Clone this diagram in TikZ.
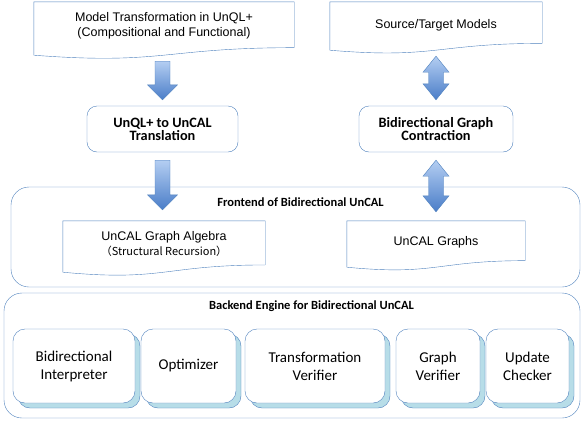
\documentclass[tikz,border=0pt]{standalone}
\usepackage{fontspec}
\setmainfont{Liberation Sans}
\newfontfamily\calib{Carlito}
\newfontfamily\cjk{Noto Sans CJK JP}
\usetikzlibrary{positioning,calc,shadows}

\definecolor{lineblue}{HTML}{4F81BD}
\definecolor{arrowtop}{HTML}{B4CEF2}
\definecolor{arrowbot}{HTML}{4A7DC8}
\definecolor{backteal}{HTML}{B7DDE8}

% wavy bottom edge of a document node
\newcommand\docline[1]{%
  \draw[lineblue] ($(#1.south east)!0.141!(#1.north east)$) -- (#1.north east) -- (#1.north west) -- (#1.south west)
    .. controls ($(#1.south)!-0.186!(#1.north)$) and ($(#1.south)!0.141!(#1.north)$) .. ($(#1.south east)!0.141!(#1.north east)$);}
\newcommand\blockarrow[2]{%
  \path[arrowfill] let \p1=(#1), \p2=(#2) in
    (\x1-7.5pt,\y1) -- (\x1+7.5pt,\y1) -- (\x1+7.5pt,\y2+15pt) -- (\x1+15pt,\y2+15pt)
    -- (\x1,\y2) -- (\x1-15pt,\y2+15pt) -- (\x1-7.5pt,\y2+15pt) -- cycle;}
\newcommand\twinarrow[2]{%
  \path[arrowfill] let \p1=(#1), \p2=(#2) in
    (\x1,\y1) -- (\x1+13pt,\y1-16pt) -- (\x1+7.5pt,\y1-16pt) -- (\x1+7.5pt,\y2+16pt) -- (\x1+13pt,\y2+16pt)
    -- (\x1,\y2) -- (\x1-13pt,\y2+16pt) -- (\x1-7.5pt,\y2+16pt) -- (\x1-7.5pt,\y1-16pt) -- (\x1-13pt,\y1-16pt) -- cycle;}

\begin{document}
\begin{tikzpicture}[x=1pt,y=-1pt,
  doc/.style={minimum width=#1,inner sep=0,align=center,font=\fontsize{12.5}{15}\selectfont},
  step box/.style={draw=lineblue,rounded corners=10pt,minimum width=#1,minimum height=46,align=center,
    font=\calib\bfseries\fontsize{14.3}{13}\selectfont},
  layer/.style={draw=lineblue,rounded corners=18pt,minimum width=#1},
  layer label/.style={font=\calib\bfseries\fontsize{12.5}{14}\selectfont},
  engine/.style={draw=lineblue,fill=white,rounded corners=12pt,minimum width=#1,minimum height=74,align=center,
    font=\calib\fontsize{15}{18}\selectfont,
    copy shadow={shadow xshift=5pt,shadow yshift=-5pt,fill=backteal,draw=lineblue}},
  arrowfill/.style={draw=lineblue,top color=arrowtop,bottom color=arrowbot}]
  \useasboundingbox (0,0) rectangle (582,421);

  \node[doc=260,minimum height=53,text depth=8.5pt] (model) at (164,28.5) {Model Transformation in UnQL+\\(Compositional and Functional)};
  \node[doc=212,minimum height=48,text depth=4.5pt] (source) at (436,26) {Source/Target Models};
  \docline{model}
  \docline{source}

  \node[step box=151] (trans) at (162.5,129) {UnQL+ to UnCAL\\Translation};
  \node[step box=154] (contr) at (436,129) {Bidirectional Graph\\Contraction};

  \node[layer=569,minimum height=100] (front) at (295.5,237) {};
  \node[layer label] (frontlbl) at (300.5,202) {Frontend of Bidirectional UnCAL};
  \node[doc=202,minimum height=51,text depth=5.5pt] (algebra) at (164,246.5)
    {UnCAL Graph Algebra\\{\fontsize{11}{12}\selectfont\cjk{（}Structural Recursion\cjk{）}}};
  \node[doc=178,minimum height=46,text depth=6.5pt] (graphs) at (436,244) {UnCAL Graphs};
  \docline{algebra}
  \docline{graphs}

  \node[layer=576,minimum height=125] (back) at (292,355.5) {};
  \node[layer label] (backlbl) at (311.5,306) {Backend Engine for Bidirectional UnCAL};
  \node[engine=122] (interp) at (74,366) {Bidirectional\\Interpreter};
  \node[engine=95] (optim) at (188.5,366) {Optimizer};
  \node[engine=140] (tverif) at (315,366) {Transformation\\Verifier};
  \node[engine=84] (gverif) at (438,366) {Graph\\Verifier};
  \node[engine=83] (check) at (527.5,366) {Update\\Checker};

  \blockarrow{$(trans.north |- model.south)+(0,6)$}{$(trans.north)+(0,-6)$}
  \blockarrow{$(trans.south)+(0,8)$}{$(trans.south |- algebra.north)+(0,-11)$}
  \twinarrow{$(contr.north |- source.south)+(0,6)$}{$(contr.north)+(0,-6)$}
  \twinarrow{$(contr.south)+(0,8)$}{$(contr.south |- graphs.north)+(0,-9)$}
\end{tikzpicture}
\end{document}
